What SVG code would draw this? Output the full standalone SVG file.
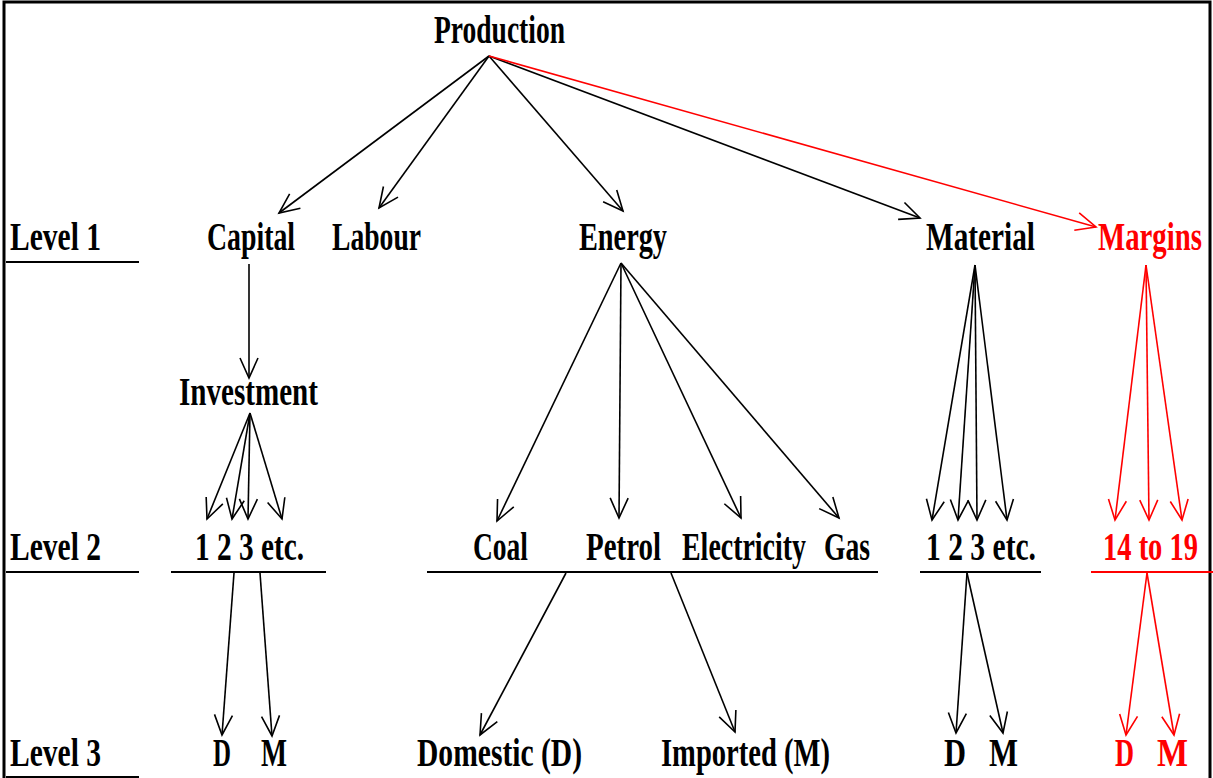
<svg xmlns="http://www.w3.org/2000/svg" width="1213" height="778" viewBox="0 0 1213 778">
<defs>
<marker id="ah" markerUnits="userSpaceOnUse" markerWidth="50" markerHeight="50" viewBox="-25 -25 50 50" refX="0" refY="0" orient="auto">
<path d="M -20,-9 L 0,0 L -20,9" fill="none" stroke="#000" stroke-width="1.6"/>
</marker>
<marker id="ahr" markerUnits="userSpaceOnUse" markerWidth="50" markerHeight="50" viewBox="-25 -25 50 50" refX="0" refY="0" orient="auto">
<path d="M -20,-9 L 0,0 L -20,9" fill="none" stroke="#f00" stroke-width="1.6"/>
</marker>
</defs>
<style>
text{font-family:"Liberation Serif","Times New Roman",serif;font-weight:bold;font-size:39px;fill:#000}
.r{fill:#f00}
.c line{stroke:#000;stroke-width:1.6;marker-end:url(#ah)}
.c line.red{stroke:#f00;marker-end:url(#ahr)}
.u{stroke:#000;stroke-width:2}
.ur{stroke:#f00;stroke-width:2}
</style>
<rect x="0" y="0" width="1213" height="778" fill="#fff"/>
<g id="frame" fill="none" stroke="#000" stroke-width="3">
<path d="M 4,778 L 4,2 L 1210,2 L 1210,778"/>
</g>
<g id="levels">
<text x="10" y="250" textLength="91" lengthAdjust="spacingAndGlyphs">Level 1</text>
<line class="u" x1="6" y1="262" x2="139" y2="262"/>
<text x="10" y="560" textLength="91" lengthAdjust="spacingAndGlyphs">Level 2</text>
<line class="u" x1="6" y1="572" x2="139" y2="572"/>
<text x="10" y="766" textLength="91" lengthAdjust="spacingAndGlyphs">Level 3</text>
<line class="u" x1="6" y1="777" x2="139" y2="777"/>
</g>
<g id="production"><text x="434" y="43" textLength="131" lengthAdjust="spacingAndGlyphs">Production</text></g>
<g id="capital"><text x="207" y="250" textLength="88" lengthAdjust="spacingAndGlyphs">Capital</text></g>
<g id="labour"><text x="332" y="250" textLength="89" lengthAdjust="spacingAndGlyphs">Labour</text></g>
<g id="energy"><text x="579" y="250" textLength="88" lengthAdjust="spacingAndGlyphs">Energy</text></g>
<g id="material"><text x="926" y="250" textLength="109" lengthAdjust="spacingAndGlyphs">Material</text></g>
<g id="margins"><text class="r" x="1098" y="250" textLength="104" lengthAdjust="spacingAndGlyphs">Margins</text></g>
<g id="investment"><text x="179" y="405" textLength="139" lengthAdjust="spacingAndGlyphs">Investment</text></g>
<g id="inv-items"><text x="195" y="560" textLength="109" lengthAdjust="spacingAndGlyphs">1 2 3 etc.</text><line class="u" x1="171" y1="572" x2="326" y2="572"/></g>
<g id="energy-items">
<text x="473" y="560" textLength="55" lengthAdjust="spacingAndGlyphs">Coal</text>
<text x="586" y="560" textLength="75" lengthAdjust="spacingAndGlyphs">Petrol</text>
<text x="682" y="560" textLength="124" lengthAdjust="spacingAndGlyphs">Electricity</text>
<text x="824" y="560" textLength="46" lengthAdjust="spacingAndGlyphs">Gas</text>
<line class="u" x1="427" y1="572" x2="878" y2="572"/>
</g>
<g id="mat-items"><text x="926" y="560" textLength="110" lengthAdjust="spacingAndGlyphs">1 2 3 etc.</text><line class="u" x1="920" y1="572" x2="1041" y2="572"/></g>
<g id="margin-items"><text class="r" x="1103" y="560" textLength="95" lengthAdjust="spacingAndGlyphs">14 to 19</text><line class="ur" x1="1091" y1="572" x2="1213" y2="572"/></g>
<g id="inv-dm"><text x="213" y="766" textLength="18" lengthAdjust="spacingAndGlyphs">D</text><text x="261" y="766" textLength="26" lengthAdjust="spacingAndGlyphs">M</text></g>
<g id="domestic"><text x="417" y="766" textLength="165" lengthAdjust="spacingAndGlyphs">Domestic (D)</text></g>
<g id="imported"><text x="661" y="766" textLength="169" lengthAdjust="spacingAndGlyphs">Imported (M)</text></g>
<g id="mat-dm"><text x="944" y="766" textLength="22" lengthAdjust="spacingAndGlyphs">D</text><text x="989" y="766" textLength="29" lengthAdjust="spacingAndGlyphs">M</text></g>
<g id="margin-dm"><text class="r" x="1115" y="766" textLength="19" lengthAdjust="spacingAndGlyphs">D</text><text class="r" x="1157" y="766" textLength="31" lengthAdjust="spacingAndGlyphs">M</text></g>
<g id="connectors" class="c">
<line x1="489" y1="56" x2="279" y2="213"/>
<line x1="489" y1="56" x2="379" y2="208"/>
<line x1="489" y1="56" x2="623" y2="211"/>
<line x1="489" y1="56" x2="920" y2="218"/>
<line class="red" x1="489" y1="56" x2="1096" y2="227"/>
<line x1="249" y1="264" x2="249" y2="378"/>
<line x1="250" y1="413" x2="207" y2="519"/>
<line x1="250" y1="413" x2="232" y2="519"/>
<line x1="250" y1="413" x2="248" y2="519"/>
<line x1="250" y1="413" x2="282" y2="519"/>
<line x1="621" y1="263" x2="497" y2="521"/>
<line x1="621" y1="263" x2="619" y2="518"/>
<line x1="621" y1="263" x2="741" y2="518"/>
<line x1="621" y1="263" x2="839" y2="518"/>
<line x1="975" y1="265" x2="932" y2="520"/>
<line x1="975" y1="265" x2="958" y2="520"/>
<line x1="975" y1="265" x2="977" y2="520"/>
<line x1="975" y1="265" x2="1007" y2="520"/>
<line class="red" x1="1146" y1="265" x2="1115" y2="520"/>
<line class="red" x1="1146" y1="265" x2="1149" y2="520"/>
<line class="red" x1="1146" y1="265" x2="1182" y2="520"/>
<line x1="234" y1="573" x2="222" y2="735"/>
<line x1="260" y1="573" x2="272" y2="736"/>
<line x1="566" y1="573" x2="480" y2="735"/>
<line x1="671" y1="573" x2="735" y2="732"/>
<line x1="967" y1="573" x2="956" y2="733"/>
<line x1="967" y1="573" x2="1003" y2="733"/>
<line class="red" x1="1147" y1="573" x2="1126" y2="735"/>
<line class="red" x1="1147" y1="573" x2="1174" y2="735"/>
</g>
</svg>
